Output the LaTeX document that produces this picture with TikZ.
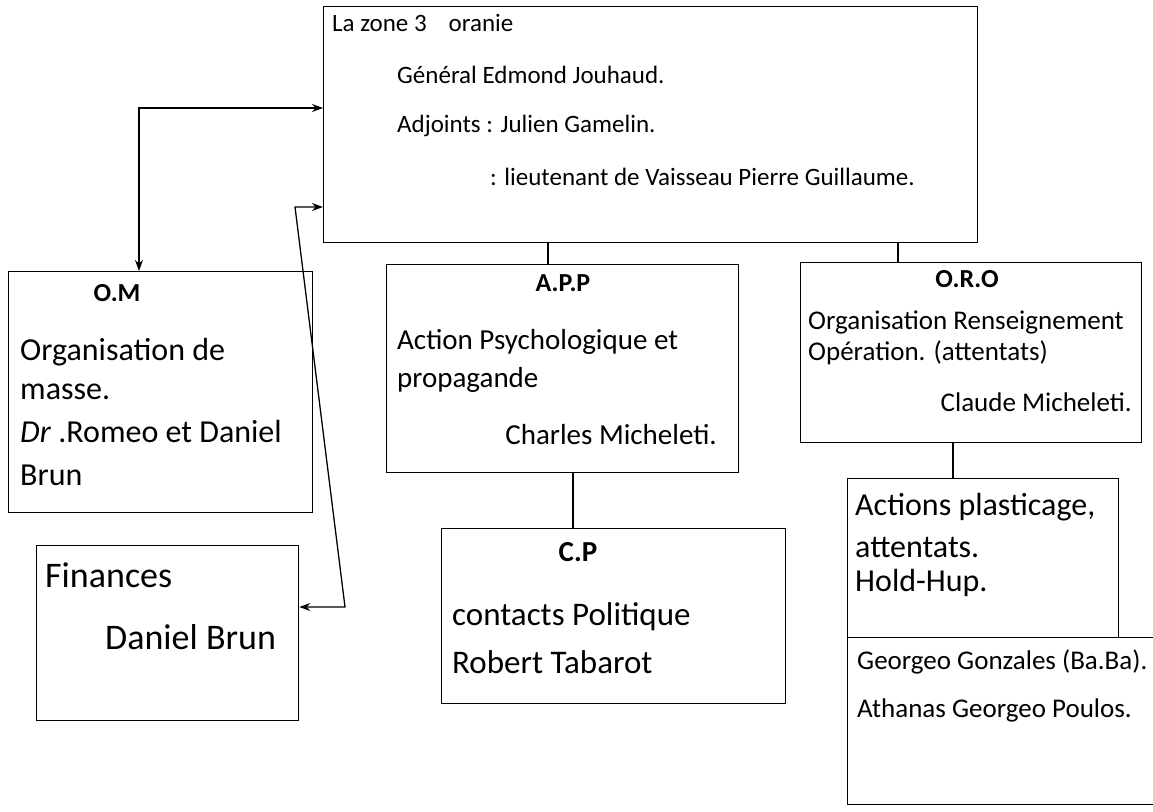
\documentclass[tikz,border=0pt]{standalone}
\usepackage{fontspec}
\setmainfont{Carlito}
\usetikzlibrary{arrows.meta}
\begin{document}
\begin{tikzpicture}[x=1pt,y=-1pt,
  box/.style={draw, line width=1.3pt, inner sep=0pt, anchor=north west},
  conn/.style={line width=1.3pt},
  arr/.style={line width=1.3pt, {Stealth[length=11pt,width=8pt]}-{Stealth[length=11pt,width=8pt]}},
  txt/.style={inner sep=0pt, anchor=west},
  ttl/.style={inner sep=0pt, anchor=center, font=\bfseries\fontsize{26}{30}\selectfont},
  fa/.style={font=\fontsize{25}{29}\selectfont},
  fb/.style={font=\fontsize{32}{36}\selectfont},
  fc/.style={font=\fontsize{29}{34}\selectfont},
  fd/.style={font=\fontsize{27}{31}\selectfont},
  fe/.style={font=\fontsize{33}{38}\selectfont},
  ff/.style={font=\fontsize{36}{40}\selectfont}]
\useasboundingbox (0,0) rectangle (1153,811);
\fill[white] (0,0) rectangle (1153,811);
% boxes
\node[box, minimum width=654pt, minimum height=236pt] (top) at (323,6) {};
\node[box, minimum width=304pt, minimum height=241pt] (om) at (8,271) {};
\node[box, minimum width=352pt, minimum height=208pt] (app) at (386,264) {};
\node[box, minimum width=341pt, minimum height=180pt] (oro) at (800,262) {};
\node[box, minimum width=262pt, minimum height=175pt] (fin) at (36,545) {};
\node[box, minimum width=344pt, minimum height=175pt] (cp) at (441,528) {};
\node[box, minimum width=271pt, minimum height=159pt] (act) at (847,478) {};
\node[box, minimum width=330pt, minimum height=167pt] (names) at (847,637) {};
% top texts
\node[txt, fa] (t1) at (332,23) {La zone 3\hspace{22pt}oranie};
\node[txt, fa] (t2) at (397,75) {Général Edmond Jouhaud.};
\node[txt, fa] (t3) at (397,126) {Adjoints : Julien Gamelin.};
\node[txt, fa] (t4) at (490,177) {: lieutenant de Vaisseau Pierre Guillaume.};
% O.M
\node[ttl] (omt) at (117,293) {O.M};
\node[txt, fb] (om1) at (20,352) {Organisation de};
\node[txt, fb] (om2) at (20,392) {masse.};
\node[txt, fb] (om3) at (20,432) {\textit{Dr} .Romeo et Daniel};
\node[txt, fb] (om4) at (20,475) {Brun};
% A.P.P
\node[ttl] (appt) at (563,283) {A.P.P};
\node[txt, fc] (app1) at (397,342) {Action Psychologique et};
\node[txt, fc] (app2) at (397,380) {propagande};
\node[txt, fc, anchor=east] (app3) at (717,435) {Charles Micheleti.};
% O.R.O
\node[ttl] (orot) at (967,279) {O.R.O};
\node[txt, fd] (oro1) at (808,322) {Organisation Renseignement};
\node[txt, fd] (oro2) at (808,353) {Opération. (attentats)};
\node[txt, fd, anchor=east] (oro3) at (1132,402) {Claude Micheleti.};
% C.P
\node[ttl, font=\bfseries\fontsize{29}{33}\selectfont] (cpt) at (578,552) {C.P};
\node[txt, fe] (cp1) at (452,617) {contacts Politique};
\node[txt, fe] (cp2) at (452,662) {Robert Tabarot};
% Finances
\node[txt, ff] (fin1) at (45,575) {Finances};
\node[txt, ff] (fin2) at (105,637) {Daniel Brun};
% Actions
\node[txt, fb] (act1) at (855,507) {Actions plasticage,};
\node[txt, fb] (act2) at (855,547) {attentats.};
\node[txt, fb] (act3) at (855,583) {Hold-Hup.};
\node[txt, fd] (nm1) at (857,662) {Georgeo Gonzales (Ba.Ba).};
\node[txt, fd] (nm2) at (857,710) {Athanas Georgeo Poulos.};
% connectors
\coordinate (k1) at (548,0);
\coordinate (k2) at (898,0);
\coordinate (k3) at (573,0);
\coordinate (k4) at (953,0);
\draw[conn] (k1 |- top.south) -- (k1 |- app.north);
\draw[conn] (k2 |- top.south) -- (k2 |- oro.north);
\draw[conn] (k3 |- app.south) -- (k3 |- cp.north);
\draw[conn] (k4 |- oro.south) -- (k4 |- act.north);
% arrows
\coordinate (a1) at (139,108);
\draw[arr] (top.west |- a1) -| (om.north -| a1);
\coordinate (b1) at (295,207);
\coordinate (b2) at (345,607);
\draw[arr] (top.west |- b1) -- (b1) -- (b2) -- (fin.east |- b2);
\end{tikzpicture}
\end{document}
